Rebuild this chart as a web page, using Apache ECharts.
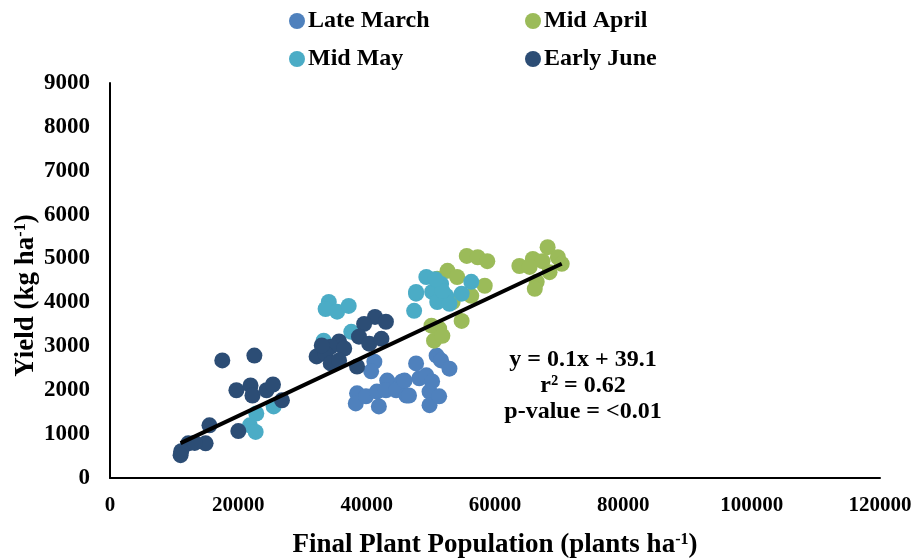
<!DOCTYPE html>
<html>
<head>
<meta charset="utf-8">
<script src="https://cdn.jsdelivr.net/npm/echarts@6/dist/echarts.min.js"></script>
<style>
  html, body { margin: 0; padding: 0; background: #fff; }
  #chart { width: 923px; height: 558px; }
</style>
</head>
<body>
<div id="chart"></div>
<script>
// Planting date groups: [final plant population (plants/ha), yield (kg/ha)]
const lateMarch = [
  [41200, 2650], [40700, 2430], [38500, 1930], [38300, 1700], [39900, 1860],
  [41900, 1630], [41600, 1970], [43200, 2220], [43000, 2000], [45500, 2200],
  [44600, 2000], [46200, 1880], [47700, 2610], [48200, 2270], [49300, 2340],
  [49800, 1970], [49800, 1660], [50900, 2790], [51600, 2680], [52900, 2490],
  [50200, 2200], [51300, 1860], [45900, 2220], [46600, 1880]
];
const midApril = [
  [55600, 5060], [57300, 5030], [58800, 4940], [52600, 4720], [54100, 4580],
  [51000, 4540], [58400, 4380], [56300, 4150], [54800, 3580], [50100, 3470],
  [51300, 3400], [50500, 3130], [51800, 3240], [53400, 4010], [63800, 4830],
  [65900, 4990], [66500, 4470], [66200, 4310], [68200, 5260], [69800, 5030],
  [70400, 4880], [68500, 4690], [67400, 4940], [65400, 4810]
];
const midMay = [
  [34100, 4010], [33600, 3850], [35400, 3790], [37200, 3920], [37600, 3330],
  [33300, 3130], [47400, 3810], [47700, 4200], [49300, 4580], [47700, 4240],
  [50200, 4240], [51600, 4420], [52400, 4150], [51000, 4010], [52900, 3970],
  [54800, 4200], [56300, 4470], [51800, 4260], [50700, 4530],
  [21800, 1200], [22700, 1050], [22800, 1470], [25500, 1630]
];
const earlyJune = [
  [17500, 2680], [22500, 2790], [19700, 2000], [21900, 2110], [22200, 1880],
  [24400, 2000], [25400, 2130], [26800, 1770], [15500, 1200], [20000, 1070],
  [14900, 790], [12200, 790], [11100, 610], [11000, 520], [13200, 800],
  [41300, 3670], [43000, 3560], [39600, 3510], [38800, 3220], [40400, 3060],
  [42300, 3170], [35700, 3110], [34400, 2990], [36500, 2950], [32200, 2770],
  [33600, 2830], [34400, 2610], [35700, 2680], [38500, 2540], [33000, 3020]
];

// Linear fit across all groups
const trendSlope = 0.0688;
const trendIntercept = 39.1;
const trendRange = [11000, 70400];
const fitText = ['y = 0.1x + 39.1', 'r\u00B2 = 0.62', 'p-value = <0.01'];

const xTicks = { min: 0, max: 120000, interval: 20000 };
const yTicks = { min: 0, max: 9000, interval: 1000 };

const FONT = '"Liberation Serif", "Times New Roman", serif';
const colors = {
  'Late March': '#4F81BD',
  'Mid April': '#9BBB59',
  'Mid May': '#4BACC6',
  'Early June': '#2C4D75'
};

const trendData = trendRange.map(x => [x, trendSlope * x + trendIntercept]);

function scatter(name, data) {
  return {
    name: name,
    type: 'scatter',
    data: data,
    symbol: 'circle',
    symbolSize: 16,
    itemStyle: { color: colors[name], opacity: 1 },
    emphasis: { disabled: true },
    z: 2
  };
}

const legendCommon = {
  orient: 'vertical',
  top: 4,
  icon: 'circle',
  itemWidth: 16,
  itemHeight: 16,
  itemGap: 14,
  selectedMode: false,
  textStyle: {
    fontFamily: FONT, fontSize: 24, fontWeight: 'bold', color: '#000',
    padding: [0, 0, 0, -2]
  }
};

const supStyle = {
  fontFamily: FONT, fontSize: 16, fontWeight: 'bold', color: '#000',
  verticalAlign: 'top', padding: [0, 0, 9, 0]
};

const chart = echarts.init(document.getElementById('chart'), null, { renderer: 'canvas' });
chart.setOption({
  animation: false,
  backgroundColor: '#fff',
  grid: { left: 110, right: 43, top: 83, bottom: 80, outerBoundsMode: 'none', containLabel: false },
  legend: [
    Object.assign({ left: 284, data: ['Late March', 'Mid May'] }, legendCommon),
    Object.assign({ left: 520, data: ['Mid April', 'Early June'] }, legendCommon)
  ],
  xAxis: {
    type: 'value',
    min: xTicks.min, max: xTicks.max, interval: xTicks.interval,
    splitLine: { show: false },
    axisTick: { show: false },
    axisLine: { lineStyle: { color: '#000', width: 2 } },
    axisLabel: {
      color: '#000', fontFamily: FONT, fontSize: 21, fontWeight: 'bold', margin: 17,
      formatter: v => String(v)
    },
    name: 'Final Plant Population (plants ha{sup|-1})',
    nameLocation: 'middle',
    nameGap: 54,
    nameMoveOverlap: false,
    nameTextStyle: {
      color: '#000', fontFamily: FONT, fontSize: 27, fontWeight: 'bold',
      rich: { sup: supStyle }
    }
  },
  yAxis: {
    type: 'value',
    min: yTicks.min, max: yTicks.max, interval: yTicks.interval,
    splitLine: { show: false },
    axisTick: { show: false },
    axisLine: { show: true, lineStyle: { color: '#000', width: 2 } },
    axisLabel: {
      color: '#000', fontFamily: FONT, fontSize: 23, fontWeight: 'bold', margin: 20,
      formatter: v => String(v)
    },
    name: 'Yield (kg ha{sup|-1})',
    nameLocation: 'middle',
    nameRotate: 90,
    nameGap: 70,
    nameMoveOverlap: false,
    nameTextStyle: {
      color: '#000', fontFamily: FONT, fontSize: 27, fontWeight: 'bold',
      padding: [0, 30, 0, 0],
      rich: { sup: supStyle }
    }
  },
  series: [
    scatter('Late March', lateMarch),
    scatter('Mid April', midApril),
    scatter('Mid May', midMay),
    scatter('Early June', earlyJune),
    {
      name: 'Linear fit',
      type: 'line',
      data: trendData,
      symbol: 'none',
      lineStyle: { color: '#000', width: 4 },
      emphasis: { disabled: true },
      z: 5
    }
  ],
  graphic: [{
    type: 'text',
    x: 583,
    y: 347,
    z: 10,
    style: {
      text: fitText.join('\n'),
      textAlign: 'center',
      textVerticalAlign: 'top',
      fontFamily: FONT,
      fontSize: 24,
      fontWeight: 'bold',
      lineHeight: 26,
      fill: '#000'
    }
  }]
});
</script>
</body>
</html>
